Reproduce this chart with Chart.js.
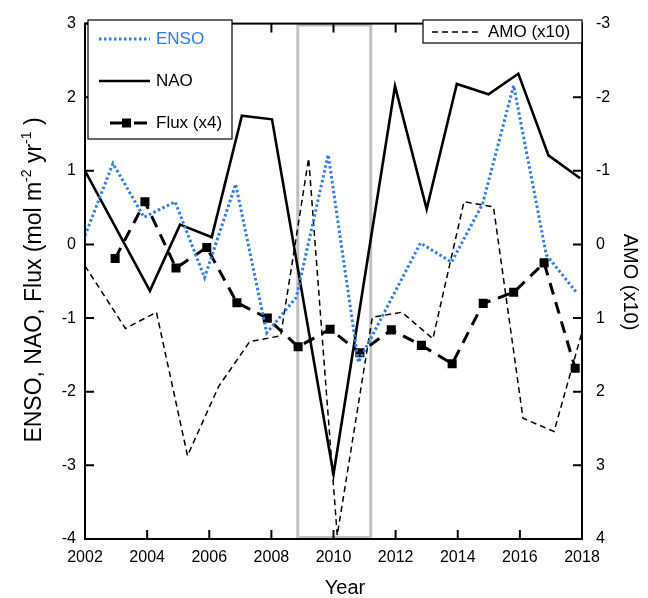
<!DOCTYPE html>
<html>
<head>
<meta charset="utf-8">
<script src="https://cdn.jsdelivr.net/npm/chart.js@4.4.1/dist/chart.umd.min.js"></script>
<style>
  html, body { margin: 0; padding: 0; background: #fff; }
  canvas { display: block; }
</style>
</head>
<body>
<canvas id="grafico" width="648" height="598"></canvas>
<script>
// ejes
const yearTicks = [2002, 2004, 2006, 2008, 2010, 2012, 2014, 2016, 2018];
const leftTicks = [-4, -3, -2, -1, 0, 1, 2, 3];
const amoTicks = [-3, -2, -1, 0, 1, 2, 3, 4];

// series
const ensoYears = [2002.0, 2002.9, 2003.9, 2004.9, 2005.85, 2006.85, 2007.85, 2008.8, 2009.83, 2010.8, 2012.8, 2013.8, 2014.8, 2015.8, 2016.85, 2017.8];
const ensoValues = [0.12, 1.1, 0.37, 0.58, -0.45, 0.82, -1.2, -0.72, 1.22, -1.6, 0.02, -0.24, 0.55, 2.16, -0.14, -0.64];

const naoYears = [2002.0, 2004.09, 2005.06, 2006.08, 2007.05, 2008.02, 2010.0, 2011.98, 2013.0, 2013.97, 2014.99, 2015.95, 2016.92, 2017.94];
const naoValues = [1.0, -0.63, 0.27, 0.1, 1.75, 1.7, -3.12, 2.15, 0.48, 2.18, 2.04, 2.32, 1.21, 0.9];

const fluxYears = [2002.97, 2003.93, 2004.93, 2005.92, 2006.89, 2007.87, 2008.86, 2009.89, 2010.85, 2011.86, 2012.83, 2013.82, 2014.82, 2015.8, 2016.78, 2017.78];
const fluxValues = [-0.19, 0.58, -0.32, -0.04, -0.79, -1.0, -1.39, -1.15, -1.47, -1.16, -1.37, -1.62, -0.8, -0.65, -0.25, -1.68];

const amoYears = [2002.0, 2003.3, 2004.3, 2005.3, 2006.3, 2007.3, 2008.3, 2009.2, 2010.12, 2011.25, 2012.2, 2013.2, 2014.2, 2015.15, 2016.1, 2017.1, 2018.0];
const amoValues = [0.29, 1.14, 0.92, 2.87, 1.93, 1.32, 1.24, -1.17, 3.95, 0.99, 0.92, 1.28, -0.58, -0.51, 2.36, 2.54, 1.19];

// periodo resaltado (recuadro gris)
const highlightYears = [2008.85, 2011.2];

const FUENTE = "'Liberation Sans', Arial, sans-serif";
const AZUL = '#2f7bf5';

function puntos(xs, ys) {
    return xs.map((x, i) => ({ x: x, y: ys[i] }));
}

function fijarTicks(valores) {
    return function(scale) {
        scale.ticks = valores.map(v => ({ value: v }));
    };
}

// Dibuja una linea de muestra de la leyenda con el estilo del dataset
function muestra(ctx, ds, x0, x1, y) {
    ctx.save();
    ctx.strokeStyle = ds.borderColor;
    ctx.lineWidth = ds.borderWidth;
    ctx.setLineDash(ds.borderDash || []);
    ctx.beginPath();
    ctx.moveTo(x0, y);
    ctx.lineTo(x1, y);
    ctx.stroke();
    ctx.restore();
}

function caja(ctx, x, y, w, h) {
    ctx.fillStyle = '#fff';
    ctx.fillRect(x, y, w, h);
    ctx.strokeStyle = '#000';
    ctx.lineWidth = 1.2;
    ctx.strokeRect(x, y, w, h);
}

const marcoPlugin = {
    id: 'marco',
    beforeDatasetsDraw(chart) {
        const ctx = chart.ctx;
        const a = chart.chartArea;
        const x = chart.scales.x;
        const x0 = x.getPixelForValue(highlightYears[0]);
        const x1 = x.getPixelForValue(highlightYears[1]);
        ctx.save();
        ctx.strokeStyle = '#c0c0c0';
        ctx.lineWidth = 3;
        ctx.strokeRect(x0, a.top + 1.5, x1 - x0, a.bottom - a.top - 3);
        ctx.restore();
    },
    afterDraw(chart) {
        const ctx = chart.ctx;
        const a = chart.chartArea;
        const { x, y, y2 } = chart.scales;
        const largo = 9;

        ctx.save();
        ctx.strokeStyle = '#000';
        ctx.lineWidth = 2;
        ctx.strokeRect(a.left, a.top, a.right - a.left, a.bottom - a.top);

        // marcas hacia adentro
        ctx.beginPath();
        x.ticks.forEach(t => {
            const px = x.getPixelForValue(t.value);
            ctx.moveTo(px, a.bottom); ctx.lineTo(px, a.bottom - largo);
            ctx.moveTo(px, a.top); ctx.lineTo(px, a.top + largo);
        });
        y.ticks.forEach(t => {
            const py = y.getPixelForValue(t.value);
            ctx.moveTo(a.left, py); ctx.lineTo(a.left + largo, py);
        });
        y2.ticks.forEach(t => {
            const py = y2.getPixelForValue(t.value);
            ctx.moveTo(a.right, py); ctx.lineTo(a.right - largo, py);
        });
        ctx.stroke();

        // leyenda izquierda
        const ds = chart.data.datasets;
        caja(ctx, 88, 20, 144, 119);
        ctx.font = '17px ' + FUENTE;
        ctx.textBaseline = 'middle';
        ctx.textAlign = 'left';

        muestra(ctx, ds[0], 99, 150, 39);
        ctx.fillStyle = AZUL;
        ctx.fillText('ENSO', 156, 39);

        muestra(ctx, ds[1], 99, 150, 81);
        ctx.fillStyle = '#000';
        ctx.fillText('NAO', 156, 81);

        const fx = Object.assign({}, ds[2], { borderDash: [] });
        muestra(ctx, fx, 110, 124, 123);
        muestra(ctx, fx, 134, 147, 123);
        ctx.fillRect(122, 118.5, 9, 9);
        ctx.fillText('Flux (x4)', 156, 123);

        // leyenda derecha
        caja(ctx, 423, 20, a.right - 423, 23);
        ctx.fillStyle = '#000';
        muestra(ctx, ds[3], 432, 482, 32);
        ctx.fillText('AMO (x10)', 488, 32);

        // titulos de ejes
        ctx.font = '20px ' + FUENTE;
        ctx.textAlign = 'center';
        ctx.textBaseline = 'alphabetic';
        ctx.fillText('Year', 345, 594);

        ctx.save();
        ctx.translate(630, 282);
        ctx.rotate(Math.PI / 2);
        ctx.textBaseline = 'middle';
        ctx.fillText('AMO (x10)', 0, 0);
        ctx.restore();

        // titulo izquierdo con superindices
        const partes = [
            { t: 'ENSO, NAO, Flux (mol m', sup: false },
            { t: '-2', sup: true },
            { t: ' yr', sup: false },
            { t: '-1', sup: true },
            { t: ' )', sup: false }
        ];
        const fNormal = '23px ' + FUENTE;
        const fSup = '14px ' + FUENTE;
        let total = 0;
        partes.forEach(p => {
            ctx.font = p.sup ? fSup : fNormal;
            p.w = ctx.measureText(p.t).width;
            total += p.w;
        });
        ctx.save();
        ctx.translate(41, 280);
        ctx.rotate(-Math.PI / 2);
        ctx.textAlign = 'left';
        ctx.textBaseline = 'alphabetic';
        let cx = -total / 2;
        partes.forEach(p => {
            ctx.font = p.sup ? fSup : fNormal;
            ctx.fillText(p.t, cx, p.sup ? -10 : 0);
            cx += p.w;
        });
        ctx.restore();

        ctx.restore();
    }
};

const ctxGrafico = document.getElementById('grafico').getContext('2d');
const grafico = new Chart(ctxGrafico, {
    type: 'line',
    data: {
        datasets: [{
            label: 'ENSO',
            data: puntos(ensoYears, ensoValues),
            yAxisID: 'y',
            borderColor: AZUL,
            borderWidth: 3,
            borderDash: [2.5, 2.5],
            pointRadius: 0,
            fill: false
        }, {
            label: 'NAO',
            data: puntos(naoYears, naoValues),
            yAxisID: 'y',
            borderColor: '#000',
            borderWidth: 2.6,
            pointRadius: 0,
            fill: false
        }, {
            label: 'Flux (x4)',
            data: puntos(fluxYears, fluxValues),
            yAxisID: 'y',
            borderColor: '#000',
            borderWidth: 3,
            borderDash: [12, 8],
            pointStyle: 'rect',
            pointRadius: 6.4,
            pointBackgroundColor: '#000',
            pointBorderWidth: 0,
            fill: false
        }, {
            label: 'AMO (x10)',
            data: puntos(amoYears, amoValues),
            yAxisID: 'y2',
            borderColor: '#000',
            borderWidth: 1.5,
            borderDash: [6, 4],
            pointRadius: 0,
            fill: false
        }]
    },
    options: {
        responsive: false,
        devicePixelRatio: 1,
        animation: false,
        layout: { padding: { top: 16, left: 0, right: 0, bottom: 0 } },
        plugins: {
            legend: { display: false },
            tooltip: { enabled: false }
        },
        scales: {
            x: {
                type: 'linear',
                min: 2002,
                max: 2018,
                afterBuildTicks: fijarTicks(yearTicks),
                afterFit: s => { s.height = 59; },
                grid: { display: false, drawTicks: false },
                border: { display: false },
                ticks: {
                    padding: 9,
                    color: '#000',
                    font: { family: FUENTE, size: 16 },
                    maxRotation: 0,
                    callback: v => String(v)
                }
            },
            y: {
                type: 'linear',
                position: 'left',
                min: -4,
                max: 3,
                afterBuildTicks: fijarTicks(leftTicks),
                afterFit: s => { s.width = 85; },
                grid: { display: false, drawTicks: false },
                border: { display: false },
                ticks: {
                    padding: 9,
                    color: '#000',
                    font: { family: FUENTE, size: 16 },
                    callback: v => String(v)
                }
            },
            y2: {
                type: 'linear',
                position: 'right',
                min: -3,
                max: 4,
                reverse: true,
                afterBuildTicks: fijarTicks(amoTicks),
                afterFit: s => { s.width = 66; },
                grid: { display: false, drawTicks: false },
                border: { display: false },
                ticks: {
                    padding: 14,
                    color: '#000',
                    font: { family: FUENTE, size: 16 },
                    callback: v => String(v)
                }
            }
        }
    },
    plugins: [marcoPlugin]
});
</script>
</body>
</html>
